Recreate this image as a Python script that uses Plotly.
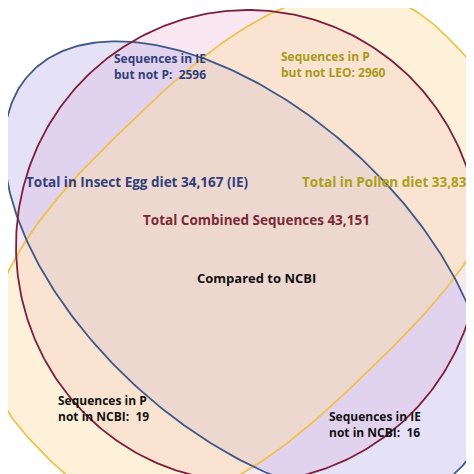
import numpy as np
import plotly.graph_objects as go

# ellipse parameters in pixel space: cx, cy, a, b, angle(deg), exponent
maroon = dict(cx=240, cy=238, a=232, b=236, ang=0, n=2)
blue = dict(cx=238, cy=262, a=292, b=160, ang=42, n=2)
yellow = dict(cx=240, cy=240, a=290, b=172, ang=-44, n=2.7)

labels = [
    ("Sequences in IE<br>but not P:  2596", 104, 58, "left", "#33407a", 12),
    ("Sequences in P<br>but not LEO: 2960", 271, 56, "left", "#a89a18", 12),
    ("P r<br>Co", 459, 98, "left", "#c9a63a", 12),
    ("35", -2, 107, "left", "#33407a", 12),
    ("Total in Insect Egg diet 34,167 (IE)", 243, 174, "right", "#33407a", 13.5),
    ("Total in Pollen diet 33,835", 292, 174, "left", "#aaa01a", 13.5),
    ("Total Combined Sequences 43,151", 248, 212, "center", "#7a2a35", 13.5),
    ("Compared to NCBI", 248, 270, "center", "#111111", 13),
    ("Sequences in P<br>not in NCBI:  19", 48, 400, "left", "#111111", 12),
    ("Sequences in IE<br>not in NCBI:  16", 319, 416, "left", "#111111", 12),
]


def curve(p):
    t = np.linspace(0, 2 * np.pi, 400)
    c, s = np.cos(t), np.sin(t)
    e = 2 / p["n"]
    u = p["a"] * np.sign(c) * np.abs(c) ** e
    v = p["b"] * np.sign(s) * np.abs(s) ** e
    r = np.radians(p["ang"])
    x = p["cx"] + u * np.cos(r) - v * np.sin(r)
    y = p["cy"] + u * np.sin(r) + v * np.cos(r)
    return x, y


fig = go.Figure()
# fills first
for p, fill in [
    (maroon, "rgba(240,200,225,0.45)"),
    (blue, "rgba(190,180,235,0.40)"),
    (yellow, "rgba(252,225,170,0.45)"),
]:
    x, y = curve(p)
    fig.add_trace(go.Scatter(x=x, y=y, mode="lines", fill="toself",
                             fillcolor=fill, line=dict(width=0),
                             hoverinfo="skip"))
# outlines on top
for p, line in [(yellow, "#eec24e"), (blue, "#3f5a86"), (maroon, "#7d1f3d")]:
    x, y = curve(p)
    fig.add_trace(go.Scatter(x=x, y=y, mode="lines",
                             line=dict(color=line, width=1.8),
                             hoverinfo="skip"))

for txt, x, y, al, col, sz in labels:
    fig.add_annotation(x=x, y=y, text="<b>" + txt + "</b>", showarrow=False,
                       xanchor=al, align="left", yanchor="middle",
                       font=dict(family="Open Sans", size=sz, color=col))

fig.update_layout(
    width=474, height=474, margin=dict(l=0, r=0, t=0, b=0),
    paper_bgcolor="white", plot_bgcolor="white", showlegend=False,
    xaxis=dict(range=[0, 474], visible=False, fixedrange=True),
    yaxis=dict(range=[474, 0], visible=False, fixedrange=True),
)
fig.write_html("out.html")
